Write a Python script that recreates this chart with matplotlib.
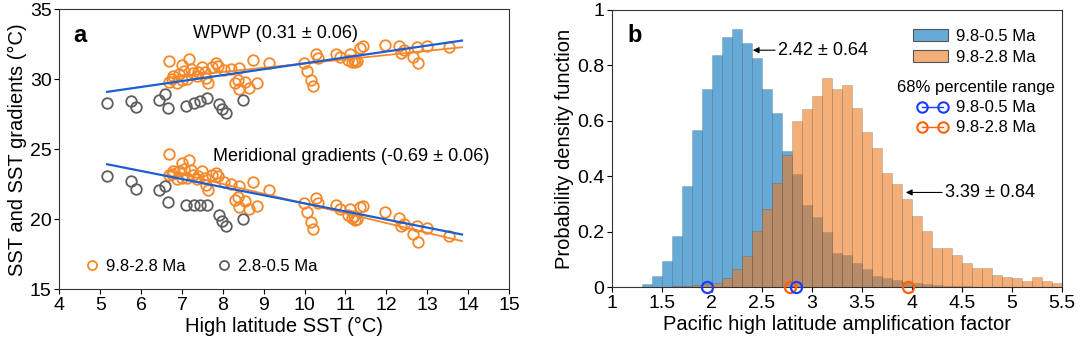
import numpy as np
import matplotlib
matplotlib.use('Agg')
import matplotlib.pyplot as plt
from matplotlib.patches import Patch
from matplotlib.lines import Line2D
from matplotlib.ticker import FormatStrFormatter

plt.rcParams['font.family'] = ['Liberation Sans', 'DejaVu Sans']

# --- panel a: high-latitude SST vs WPWP SST (meridional gradient = WPWP - high-lat)
hl_old = [6.68, 6.69, 6.75, 6.77, 6.88, 6.93, 6.99, 6.99, 7.05, 7.12, 7.18, 7.21,
          7.28, 7.37, 7.40, 7.48, 7.56, 7.60, 7.64, 7.73, 7.83, 7.89, 8.03, 8.21,
          8.30, 8.38, 8.39, 8.39, 8.54, 8.65, 8.73, 8.84, 9.13,
          9.98, 10.06, 10.15, 10.21, 10.29, 10.33,
          10.77, 10.86, 11.07, 11.11, 11.15, 11.20, 11.23, 11.29, 11.35, 11.43,
          11.96, 12.31, 12.37, 12.43, 12.64, 12.74, 12.78, 13.00, 13.53]
wpwp_old = [31.33, 29.83, 30.00, 30.24, 29.76, 30.38, 31.02, 29.95, 30.61, 30.05, 31.43, 30.71,
            30.43, 30.24, 30.50, 30.90, 30.54, 30.07, 29.71, 30.90, 31.14, 30.95, 30.66, 30.71,
            29.71, 29.95, 30.79, 29.29, 29.83, 29.36, 31.38, 29.76, 31.19,
            31.14, 30.61, 29.95, 29.52, 31.81, 31.50,
            31.81, 31.62, 31.38, 31.81, 31.26, 31.40, 31.20, 31.33, 32.21, 32.38,
            32.45, 32.38, 31.90, 32.10, 31.62, 32.29, 31.19, 32.38, 32.33]

hl_young = [5.17, 5.75, 5.87, 6.43, 6.59, 6.66, 7.11, 7.30, 7.44, 7.62, 7.91, 7.99, 8.08, 8.50]
wpwp_young = [28.29, 28.47, 28.00, 28.52, 28.95, 27.93, 28.11, 28.33, 28.45, 28.64,
              28.21, 27.86, 27.57, 28.52]

# regression through the full 9.8-0.5 Ma record (WPWP vs high-latitude SST)
full_slope = 0.422
full_intercept = 26.92
fit_x_max = 13.85

# --- panel b: probability density, 0.1-wide bins
bin_width = 0.1
blue_start = 1.3
blue_density = [0.012, 0.041, 0.095, 0.185, 0.365, 0.568, 0.714, 0.838, 0.904, 0.931,
                0.880, 0.826, 0.716, 0.628, 0.493, 0.409, 0.297, 0.255, 0.200, 0.125,
                0.115, 0.087, 0.065, 0.041, 0.032, 0.028, 0.020, 0.014, 0.012, 0.008,
                0.006, 0.005, 0.003]
orange_start = 1.6
orange_density = [0.003, 0.005, 0.008, 0.012, 0.017, 0.032, 0.065, 0.113, 0.203, 0.281,
                  0.377, 0.477, 0.598, 0.643, 0.690, 0.754, 0.714, 0.730, 0.648, 0.561,
                  0.501, 0.413, 0.372, 0.317, 0.257, 0.203, 0.143, 0.141, 0.116, 0.087,
                  0.069, 0.069, 0.044, 0.038, 0.032, 0.023, 0.036, 0.023, 0.017]

range_full = [1.95, 2.84]   # 68% percentile range, 9.8-0.5 Ma
range_old = [2.78, 3.96]    # 68% percentile range, 9.8-2.8 Ma

c_old = '#f5892a'
c_young = '#5e5e5e'
c_fit = '#1a5fd6'
c_hist_blue = '#0072bd'
c_hist_orange = '#ee791e'
c_pr_blue = '#1a3dff'
c_pr_orange = '#ff6010'

TICK = 14
LAB = 14.5

fig = plt.figure(figsize=(10.8, 3.43), dpi=100)

# ---------------- panel a ----------------
ax = fig.add_axes([0.0549, 0.1566, 0.4164, 0.8163])

hl_old = np.array(hl_old)
wpwp_old = np.array(wpwp_old)
hl_young = np.array(hl_young)
wpwp_young = np.array(wpwp_young)
grad_old = wpwp_old - hl_old
grad_young = wpwp_young - hl_young

mk = dict(marker='o', ls='none', mfc='none', ms=7.6, mew=1.3)
ax.plot(hl_old, wpwp_old, color=c_old, **mk)
ax.plot(hl_old, grad_old, color=c_old, **mk)
ax.plot(hl_young, wpwp_young, color=c_young, **mk)
ax.plot(hl_young, grad_young, color=c_young, **mk)

# 9.8-2.8 Ma fits
xo = np.array([hl_old.min(), fit_x_max])
for y_old in (wpwp_old, grad_old):
    p_old = np.polyfit(hl_old, y_old, 1)
    ax.plot(xo, np.polyval(p_old, xo), color=c_old, lw=1.3)

# full-record fits (gradient line = WPWP line minus high-latitude SST)
xa = np.array([min(hl_old.min(), hl_young.min()), fit_x_max])
wpwp_line = full_intercept + full_slope * xa
ax.plot(xa, wpwp_line, color=c_fit, lw=1.6)
ax.plot(xa, wpwp_line - xa, color=c_fit, lw=1.6)

ax.text(9.29, 33.25, 'WPWP (0.31 ± 0.06)', ha='center', va='center', fontsize=13)
ax.text(11.14, 24.5, 'Meridional gradients (-0.69 ± 0.06)', ha='center', va='center',
        fontsize=13)
ax.text(0.031, 0.905, 'a', transform=ax.transAxes, fontsize=17, fontweight='bold',
        va='center', ha='left')

ax.set_xlim(4, 15)
ax.set_ylim(15, 35)
ax.set_xticks(np.arange(4, 16, 1))
ax.set_yticks([15, 20, 25, 30, 35])
ax.set_xlabel('High latitude SST (°C)', fontsize=LAB, labelpad=2)
ax.set_ylabel('SST and SST gradients (°C)', fontsize=LAB, labelpad=2)

leg_handles = [Line2D([], [], color=c_old, marker='o', ls='none', mfc='none', ms=6.5, mew=1.3),
               Line2D([], [], color=c_young, marker='o', ls='none', mfc='none', ms=6.5, mew=1.3)]
ax.legend(leg_handles, ['9.8-2.8 Ma', '2.8-0.5 Ma'], loc='lower left', ncol=2,
          frameon=False, fontsize=12, handlelength=0.8, handletextpad=0.45,
          columnspacing=1.9, bbox_to_anchor=(0.025, 0.0))

# ---------------- panel b ----------------
bx = fig.add_axes([0.5664, 0.1624, 0.4169, 0.8085])

edge = (0.15, 0.15, 0.15, 0.2)
blue_left = blue_start + bin_width * np.arange(len(blue_density))
orange_left = orange_start + bin_width * np.arange(len(orange_density))
bx.bar(blue_left, blue_density, width=bin_width, align='edge',
       color=matplotlib.colors.to_rgba(c_hist_blue, 0.6), edgecolor=edge, lw=0.6)
bx.bar(orange_left, orange_density, width=bin_width, align='edge',
       color=matplotlib.colors.to_rgba(c_hist_orange, 0.6), edgecolor=edge, lw=0.6)

pr = dict(ls='none', marker='o', mfc='none', ms=8, mew=1.6, clip_on=False, zorder=5)
bx.plot(range_old, [0, 0], color=c_pr_orange, **pr)
bx.plot(range_full, [0, 0], color=c_pr_blue, **pr)

arr = dict(arrowstyle='-|>', color='black', lw=0.8, mutation_scale=9, shrinkA=0, shrinkB=0)
bx.annotate('2.42 ± 0.64', xy=(2.41, 0.855), xytext=(2.66, 0.855), fontsize=13,
            va='center', ha='left', arrowprops=arr)
bx.annotate('3.39 ± 0.84', xy=(3.94, 0.342), xytext=(4.33, 0.342), fontsize=13,
            va='center', ha='left', arrowprops=arr)

bx.text(0.034, 0.909, 'b', transform=bx.transAxes, fontsize=17, fontweight='bold',
        va='center', ha='left')

bx.set_xlim(1, 5.5)
bx.set_ylim(0, 1)
bx.set_xticks(np.arange(1, 5.51, 0.5))
bx.set_yticks(np.arange(0, 1.01, 0.2))
bx.xaxis.set_major_formatter(FormatStrFormatter('%g'))
bx.yaxis.set_major_formatter(FormatStrFormatter('%g'))
bx.set_xlabel('Pacific high latitude amplification factor', fontsize=LAB, labelpad=2)
bx.set_ylabel('Probability density function', fontsize=LAB, labelpad=2)

hist_handles = [Patch(facecolor=matplotlib.colors.to_rgba(c_hist_blue, 0.6), edgecolor='#555555', lw=0.8),
                Patch(facecolor=matplotlib.colors.to_rgba(c_hist_orange, 0.6), edgecolor='#555555', lw=0.8)]
leg1 = bx.legend(hist_handles, ['9.8-0.5 Ma', '9.8-2.8 Ma'], loc='upper right',
                 frameon=False, fontsize=12, handlelength=2.1, handleheight=0.75,
                 handletextpad=0.5, labelspacing=0.35, bbox_to_anchor=(0.975, 0.985))
bx.add_artist(leg1)

pr_handles = [Line2D([], [], color=c_pr_blue, marker='o', mfc='none', ms=7.5, mew=1.5, lw=1),
              Line2D([], [], color=c_pr_orange, marker='o', mfc='none', ms=7.5, mew=1.5, lw=1)]
bx.legend(pr_handles, ['9.8-0.5 Ma', '9.8-2.8 Ma'], loc='upper right', frameon=False,
          fontsize=12, title='68% percentile range', title_fontsize=12, numpoints=2,
          handlelength=1.9, handletextpad=0.45, labelspacing=0.3,
          bbox_to_anchor=(1.018, 0.80))

for a in (ax, bx):
    a.tick_params(direction='out', length=3.5, width=0.8, labelsize=TICK, pad=2)
    for s in a.spines.values():
        s.set_linewidth(0.8)
        s.set_color('#333333')

fig.savefig('out.png', dpi=100)
